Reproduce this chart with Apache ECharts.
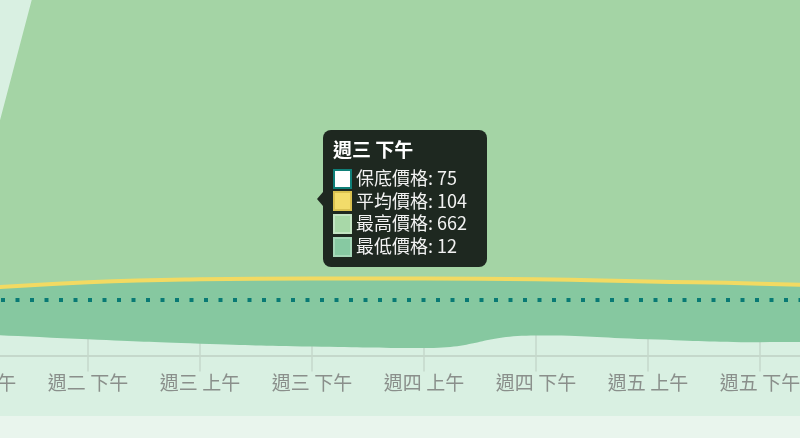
<!DOCTYPE html>
<html>
<head>
<meta charset="utf-8">
<script src="https://cdn.jsdelivr.net/npm/echarts@6/dist/echarts.min.js"></script>
<style>
html,body{margin:0;padding:0;background:#d9f0e2;}
#chart{width:800px;height:438px;}
</style>
</head>
<body>
<div id="chart"></div>
<script>
var categories = ['週二 上午','週二 下午','週三 上午','週三 下午','週四 上午','週四 下午','週五 上午','週五 下午','週六 上午'];
var floorPrice = [75, 75, 75, 75, 75, 75, 75, 75, 75];
var avgPrice   = [90, 99, 103, 104, 104, 103, 100, 97, 92];
var maxPrice   = [195, 768, 700, 662, 640, 660, 630, 610, 600];
var minPrice   = [29, 22, 16, 12, 10, 27, 22, 18, 19];
var shownIndex = 3;

var bandLow = minPrice.map(function(v, i){ return avgPrice[i] - v; });
var bandHigh = maxPrice.map(function(v, i){ return v - avgPrice[i]; });

var chart = echarts.init(document.getElementById('chart'));

function marker(fill, border){
  return '<span style="display:inline-block;box-sizing:border-box;width:19px;height:20px;background:' + fill +
    ';border:2px solid ' + border + ';vertical-align:middle;margin-right:4px;margin-top:-3px;"></span>';
}

var noEmph = { disabled: true };

var option = {
  animation: false,
  backgroundColor: '#d9f0e2',
  textStyle: { fontFamily: '"Noto Sans CJK TC", "Noto Sans", sans-serif' },
  grid: { left: -24, right: -72, top: 0, bottom: 82.5, containLabel: false, outerBoundsMode: 'none' },
  graphic: [{
    type: 'rect', left: 0, top: 416, z: -10,
    shape: { width: 800, height: 22 },
    style: { fill: '#e9f5ed' }
  }],
  tooltip: {
    trigger: 'axis',
    alwaysShowContent: true,
    transitionDuration: 0,
    axisPointer: { type: 'line', lineStyle: { opacity: 0 } },
    position: [323, 130],
    backgroundColor: '#1e2820',
    borderWidth: 0,
    borderRadius: 8,
    padding: [6, 10, 10, 10],
    extraCssText: 'box-shadow:none;overflow:visible;width:144px;',
    formatter: function(params){
      var i = params[0].dataIndex;
      var rowStyle = 'font-size:18px;line-height:22.7px;color:#f2f2f2;white-space:nowrap;';
      return '<div style="position:relative;">' +
        '<span style="position:absolute;left:-16px;top:56px;width:0;height:0;border-top:7px solid transparent;border-bottom:7px solid transparent;border-right:6px solid #1e2820;"></span>' +
        '<div style="font-size:19px;font-weight:bold;line-height:26px;color:#ffffff;margin-bottom:4px;">' + categories[i] + '</div>' +
        '<div style="' + rowStyle + '">' + marker('#ffffff', '#0f7f78') + '保底價格: ' + floorPrice[i] + '</div>' +
        '<div style="' + rowStyle + '">' + marker('#f2dc6a', '#d9c150') + '平均價格: ' + avgPrice[i] + '</div>' +
        '<div style="' + rowStyle + '">' + marker('#a8d8a8', '#c3e4c3') + '最高價格: ' + maxPrice[i] + '</div>' +
        '<div style="' + rowStyle + '">' + marker('#87c9a2', '#a5d8b8') + '最低價格: ' + minPrice[i] + '</div>' +
        '</div>';
    }
  },
  xAxis: {
    type: 'category',
    data: categories,
    boundaryGap: false,
    axisLine: { lineStyle: { color: '#c5d8cb', width: 2 } },
    axisTick: { length: 16, lineStyle: { color: '#c5d8cb', width: 1.5 } },
    splitLine: { show: true, lineStyle: { color: '#c5d8cb', width: 1.5 } },
    axisLabel: { interval: 0, margin: 18, fontSize: 19, color: '#8a8f8b', fontFamily: '"Noto Sans CJK TC", sans-serif' }
  },
  yAxis: {
    type: 'value', min: 0, max: 480, show: false,
    splitLine: { show: false }
  },
  series: [
    {
      name: '最低價格', type: 'line', stack: 'band', smooth: true, symbol: 'none',
      data: minPrice, lineStyle: { width: 0, opacity: 0 }, itemStyle: { color: '#87c9a2' },
      emphasis: noEmph
    },
    {
      name: '平均價格', type: 'line', stack: 'band', smooth: true, symbol: 'none',
      data: bandLow, lineStyle: { width: 4, color: '#f2da62' }, itemStyle: { color: '#f2dc6a' },
      areaStyle: { color: '#86c8a0', opacity: 1 }, z: 3, emphasis: noEmph
    },
    {
      name: '最高價格', type: 'line', stack: 'band', smooth: false, symbol: 'none',
      data: bandHigh, lineStyle: { width: 0, opacity: 0 }, itemStyle: { color: '#a8d8a8' },
      areaStyle: { color: '#a4d4a5', opacity: 1 }, z: 2, emphasis: noEmph
    },
    {
      name: '保底價格', type: 'line', smooth: false, symbol: 'none',
      data: floorPrice, lineStyle: { width: 4, color: '#087a74', type: [4, 10.5], dashOffset: 4, cap: 'butt' },
      itemStyle: { color: '#ffffff' }, z: 4, emphasis: noEmph
    }
  ]
};
chart.setOption(option);
chart.dispatchAction({ type: 'showTip', seriesIndex: 0, dataIndex: shownIndex });
</script>
</body>
</html>
